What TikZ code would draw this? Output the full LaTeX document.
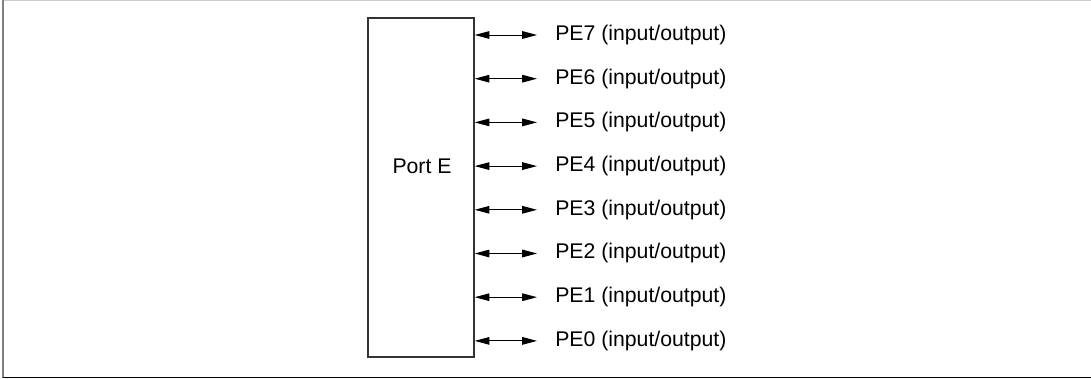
\documentclass[tikz,border=0pt]{standalone}
\usepackage{fontspec}
\setmainfont{Liberation Sans}
\usetikzlibrary{arrows.meta,positioning}
\definecolor{edge}{RGB}{51,51,51}
\definecolor{frm}{RGB}{128,128,128}
\definecolor{frmlt}{RGB}{204,204,204}
\tikzset{
  portbox/.style={rectangle,draw=edge,line width=1.2pt,minimum width=2.65cm,minimum height=8.475cm,inner sep=0pt},
  pinlabel/.style={anchor=west,inner xsep=0.45cm,inner ysep=0pt},
  pinlink/.style={{Triangle[length=10.5pt,width=5.4pt]}-{Triangle[length=10.5pt,width=5.4pt]},line width=0.7pt,draw=black},
}

\begin{document}
\begin{tikzpicture}[x=0.025cm,y=-0.025cm,font=\fontsize{15.1}{18}\selectfont]
\useasboundingbox (0,0) rectangle (1091,379);
% frame
\draw[frmlt,line width=1.2pt] (3,0.6) -- (1091,0.6);
\draw[frm,line width=1.6pt] (3.3,0) -- (3.3,378);
\draw[black,line width=1.2pt] (3,377.6) -- (1091,377.6);

\node[portbox,anchor=north west] (porte) at (367,17) {};
\node (portlbl) at (422,166) {Port E};

\node[pinlabel] (pe7) at (537,35) {PE7 (input/output)};
\node[pinlabel] (pe6) at (537,78.7) {PE6 (input/output)};
\node[pinlabel] (pe5) at (537,122.4) {PE5 (input/output)};
\node[pinlabel] (pe4) at (537,166.1) {PE4 (input/output)};
\node[pinlabel] (pe3) at (537,209.8) {PE3 (input/output)};
\node[pinlabel] (pe2) at (537,253.5) {PE2 (input/output)};
\node[pinlabel] (pe1) at (537,297.2) {PE1 (input/output)};
\node[pinlabel] (pe0) at (537,340.9) {PE0 (input/output)};

% pin arrows
\draw[pinlink] (porte.east |- pe7.west) -- (pe7.west);
\draw[pinlink] (porte.east |- pe6.west) -- (pe6.west);
\draw[pinlink] (porte.east |- pe5.west) -- (pe5.west);
\draw[pinlink] (porte.east |- pe4.west) -- (pe4.west);
\draw[pinlink] (porte.east |- pe3.west) -- (pe3.west);
\draw[pinlink] (porte.east |- pe2.west) -- (pe2.west);
\draw[pinlink] (porte.east |- pe1.west) -- (pe1.west);
\draw[pinlink] (porte.east |- pe0.west) -- (pe0.west);
\end{tikzpicture}
\end{document}
